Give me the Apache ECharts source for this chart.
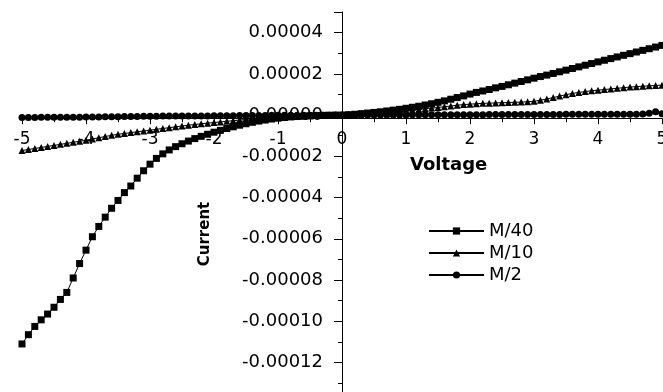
<!DOCTYPE html>
<html>
<head>
<meta charset="utf-8">
<script src="https://cdn.jsdelivr.net/npm/echarts@6/dist/echarts.min.js"></script>
<style>
html,body{margin:0;padding:0;background:#fff;}
#chart{width:663px;height:392px;}
</style>
</head>
<body>
<div id="chart"></div>
<script>
const voltage = [-5.0,-4.9,-4.8,-4.7,-4.6,-4.5,-4.4,-4.3,-4.2,-4.1,-4.0,-3.9,-3.8,-3.7,-3.6,-3.5,-3.4,-3.3,-3.2,-3.1,-3.0,-2.9,-2.8,-2.7,-2.6,-2.5,-2.4,-2.3,-2.2,-2.1,-2.0,-1.9,-1.8,-1.7,-1.6,-1.5,-1.4,-1.3,-1.2,-1.1,-1.0,-0.9,-0.8,-0.7,-0.6,-0.5,-0.4,-0.3,-0.2,-0.1,0.0,0.1,0.2,0.3,0.4,0.5,0.6,0.7,0.8,0.9,1.0,1.1,1.2,1.3,1.4,1.5,1.6,1.7,1.8,1.9,2.0,2.1,2.2,2.3,2.4,2.5,2.6,2.7,2.8,2.9,3.0,3.1,3.2,3.3,3.4,3.5,3.6,3.7,3.8,3.9,4.0,4.1,4.2,4.3,4.4,4.5,4.6,4.7,4.8,4.9,5.0];

const m40 = [-11.10e-5,-10.65e-5,-10.25e-5,-9.93e-5,-9.65e-5,-9.32e-5,-8.94e-5,-8.60e-5,-7.90e-5,-7.20e-5,
-6.55e-5,-5.90e-5,-5.40e-5,-4.95e-5,-4.52e-5,-4.14e-5,-3.76e-5,-3.44e-5,-3.06e-5,-2.70e-5,
-2.38e-5,-2.10e-5,-1.88e-5,-1.69e-5,-1.53e-5,-1.39e-5,-1.26e-5,-1.14e-5,-1.03e-5,-0.93e-5,
-0.83e-5,-0.74e-5,-0.65e-5,-0.57e-5,-0.49e-5,-0.42e-5,-0.35e-5,-0.29e-5,-0.24e-5,-0.19e-5,
-0.15e-5,-0.12e-5,-0.09e-5,-0.07e-5,-0.05e-5,-0.035e-5,-0.022e-5,-0.012e-5,-0.006e-5,-0.002e-5,
0,
0.02e-5,0.04e-5,0.07e-5,0.10e-5,0.13e-5,0.16e-5,0.20e-5,0.24e-5,0.28e-5,0.33e-5,
0.38e-5,0.43e-5,0.49e-5,0.55e-5,0.62e-5,0.69e-5,0.77e-5,0.85e-5,0.93e-5,1.02e-5,
1.10e-5,1.17e-5,1.24e-5,1.32e-5,1.39e-5,1.47e-5,1.55e-5,1.63e-5,1.71e-5,1.79e-5,
1.87e-5,1.94e-5,2.02e-5,2.10e-5,2.18e-5,2.26e-5,2.34e-5,2.42e-5,2.50e-5,2.58e-5,
2.66e-5,2.74e-5,2.82e-5,2.90e-5,2.98e-5,3.06e-5,3.14e-5,3.22e-5,3.30e-5,3.38e-5];

const m10 = [-1.72e-5,-1.67e-5,-1.62e-5,-1.57e-5,-1.52e-5,-1.47e-5,-1.42e-5,-1.37e-5,-1.32e-5,-1.27e-5,
-1.22e-5,-1.16e-5,-1.10e-5,-1.04e-5,-0.98e-5,-0.93e-5,-0.89e-5,-0.85e-5,-0.81e-5,-0.77e-5,
-0.73e-5,-0.69e-5,-0.65e-5,-0.61e-5,-0.57e-5,-0.53e-5,-0.49e-5,-0.46e-5,-0.42e-5,-0.39e-5,
-0.36e-5,-0.33e-5,-0.30e-5,-0.27e-5,-0.24e-5,-0.21e-5,-0.18e-5,-0.16e-5,-0.14e-5,-0.12e-5,
-0.10e-5,-0.08e-5,-0.065e-5,-0.05e-5,-0.04e-5,-0.03e-5,-0.02e-5,-0.012e-5,-0.006e-5,-0.002e-5,
0,
0.02e-5,0.04e-5,0.06e-5,0.08e-5,0.10e-5,0.12e-5,0.15e-5,0.17e-5,0.20e-5,0.22e-5,
0.25e-5,0.28e-5,0.31e-5,0.34e-5,0.37e-5,0.41e-5,0.44e-5,0.48e-5,0.51e-5,0.53e-5,
0.55e-5,0.57e-5,0.58e-5,0.59e-5,0.60e-5,0.61e-5,0.62e-5,0.63e-5,0.65e-5,0.67e-5,
0.72e-5,0.78e-5,0.85e-5,0.92e-5,0.99e-5,1.05e-5,1.10e-5,1.14e-5,1.18e-5,1.21e-5,
1.24e-5,1.27e-5,1.30e-5,1.33e-5,1.36e-5,1.38e-5,1.40e-5,1.42e-5,1.44e-5,1.45e-5];

const m2 = [-0.12e-5,-0.12e-5,-0.12e-5,-0.11e-5,-0.11e-5,-0.11e-5,-0.10e-5,-0.10e-5,-0.10e-5,-0.10e-5,
-0.09e-5,-0.09e-5,-0.09e-5,-0.08e-5,-0.08e-5,-0.08e-5,-0.07e-5,-0.07e-5,-0.07e-5,-0.06e-5,
-0.06e-5,-0.06e-5,-0.05e-5,-0.05e-5,-0.05e-5,-0.05e-5,-0.04e-5,-0.04e-5,-0.04e-5,-0.04e-5,
-0.03e-5,-0.03e-5,-0.03e-5,-0.03e-5,-0.02e-5,-0.02e-5,-0.02e-5,-0.02e-5,-0.02e-5,-0.01e-5,
-0.01e-5,-0.01e-5,-0.01e-5,-0.01e-5,-0.01e-5,-0.005e-5,-0.004e-5,-0.003e-5,-0.002e-5,-0.001e-5,
0,
0.001e-5,0.002e-5,0.003e-5,0.004e-5,0.005e-5,0.006e-5,0.007e-5,0.008e-5,0.009e-5,0.010e-5,
0.011e-5,0.012e-5,0.013e-5,0.014e-5,0.015e-5,0.016e-5,0.017e-5,0.018e-5,0.019e-5,0.020e-5,
0.021e-5,0.022e-5,0.023e-5,0.024e-5,0.025e-5,0.026e-5,0.027e-5,0.028e-5,0.029e-5,0.030e-5,
0.031e-5,0.032e-5,0.033e-5,0.034e-5,0.035e-5,0.036e-5,0.037e-5,0.038e-5,0.039e-5,0.040e-5,
0.041e-5,0.042e-5,0.043e-5,0.044e-5,0.045e-5,0.046e-5,0.047e-5,0.09e-5,0.16e-5,0.06e-5];

const seriesNames = ['M/40','M/10','M/2'];
const xTicks = [-5,-4,-3,-2,-1,0,1,2,3,4,5];
const xTitle = 'Voltage';
const yTitle = 'Current';

function pairs(ys){ return voltage.map((v,i)=>[v, ys[i]]); }

const FONT = 'DejaVu Sans';
const GRID = {left:22, right:1, top:12, bottom:-11.75};
// place axes through the origin using offsets (x=0 -> 342px, y=0 -> 118.25px)
const Y_AXIS_OFFSET = -(342 - GRID.left);
const X_AXIS_OFFSET = -((392 - GRID.bottom) - 118.25);

const chart = echarts.init(document.getElementById('chart'), null, {renderer:'canvas'});
const lineSeries = (name, data, symbol) => ({
  name: name, type:'line', data: pairs(data), symbol: symbol, symbolSize: 7,
  showAllSymbol: true,
  itemStyle:{color:'#000'}, lineStyle:{color:'#000', width:1},
  animation:false
});
chart.setOption({
  backgroundColor:'#fff',
  animation:false,
  grid:Object.assign({containLabel:false, outerBoundsMode:'none'}, GRID),
  legend:{
    orient:'vertical', left:423, top:217, itemWidth:55, itemHeight:9, itemGap:4,
    textStyle:{fontFamily:FONT, fontSize:18, color:'#000'},
    data: seriesNames
  },
  xAxis:{
    type:'value', min:-5, max:5, interval:1, position:'bottom', offset:X_AXIS_OFFSET,
    axisLine:{onZero:false, lineStyle:{color:'#000', width:1}},
    axisTick:{show:true, inside:false, length:6, lineStyle:{color:'#000'}},
    minorTick:{show:true, splitNumber:2, length:4, lineStyle:{color:'#000'}},
    splitLine:{show:false},
    axisLabel:{margin:13, fontFamily:FONT, fontSize:17, color:'#000',
      formatter: v => xTicks.indexOf(Math.round(v))>=0 ? String(Math.round(v)) : ''}
  },
  yAxis:{
    type:'value', min:-0.00014, max:0.00005, interval:0.00002, position:'left', offset:Y_AXIS_OFFSET,
    axisLine:{onZero:false, lineStyle:{color:'#000', width:1}},
    axisTick:{show:true, inside:false, length:8, lineStyle:{color:'#000'}},
    minorTick:{show:true, splitNumber:2, length:4, lineStyle:{color:'#000'}},
    splitLine:{show:false},
    axisLabel:{margin:19, fontFamily:FONT, fontSize:18, color:'#000', showMaxLabel:false,
      formatter: v => (v > 0.000045 ? '' : (Math.abs(v)<1e-12 ? 0 : v).toFixed(5))}
  },
  graphic:[
    {type:'text', left:410, top:156, style:{text:xTitle, fontFamily:FONT, fontWeight:'bold', fontSize:18, fill:'#000'}},
    {type:'text', x:205, y:234, rotation:Math.PI/2,
      style:{text:yTitle, fontFamily:FONT, fontWeight:'bold', fontSize:15, fill:'#000', align:'center', verticalAlign:'middle'}}
  ],
  series:[
    lineSeries(seriesNames[0], m40, 'rect'),
    lineSeries(seriesNames[1], m10, 'triangle'),
    lineSeries(seriesNames[2], m2, 'circle')
  ]
});
</script>
</body>
</html>
